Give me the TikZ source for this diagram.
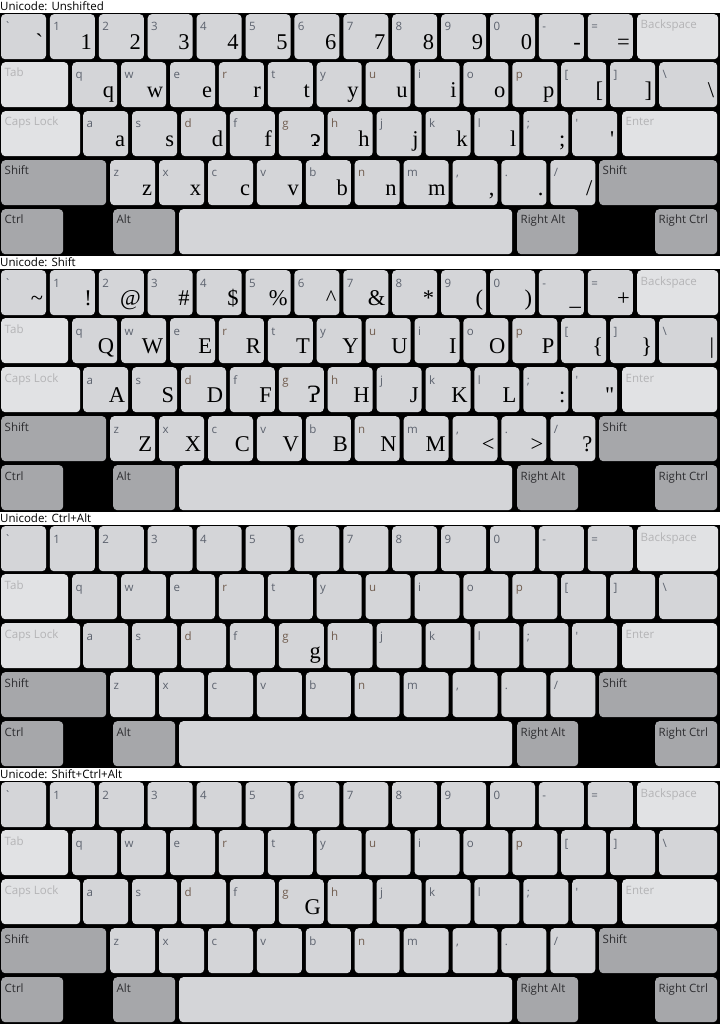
\documentclass[tikz,border=0pt]{standalone}
\usepackage{fontspec}
\newfontfamily\lblfont{Open Sans}
\newfontfamily\bigfont{Liberation Serif}
\newfontfamily\gsfont{DejaVu Serif}
\newcommand\uc[1]{\char"#1\relax}
\definecolor{keyfill}{RGB}{212,213,216}
\definecolor{litefill}{RGB}{225,226,228}
\definecolor{modfill}{RGB}{166,167,170}
\definecolor{lblgray}{RGB}{92,98,110}
\definecolor{lblbrown}{RGB}{112,92,78}
\definecolor{lblfaint}{RGB}{180,180,182}
\definecolor{lbldark}{RGB}{45,45,48}
\newcommand\br[1]{\textcolor{lblbrown}{#1}}
% small labels
\newcommand\SmA[1]{\ifcase#1 \uc{60}\or 1\or 2\or 3\or 4\or 5\or 6\or 7\or 8\or 9\or 0\or -\or =\fi}
\newcommand\SmB[1]{\ifcase#1 q\or w\or e\or \br{r}\or t\or y\or \br{u}\or i\or o\or \br{p}\or [\or ]\or \textbackslash\fi}
\newcommand\SmC[1]{\ifcase#1 a\or s\or \br{d}\or f\or \br{g}\or \br{h}\or j\or k\or l\or ;\or \uc{27}\fi}
\newcommand\SmD[1]{\ifcase#1 z\or x\or c\or v\or b\or \br{n}\or m\or ,\or .\or /\fi}
% big labels (redefined per panel)
\newcommand\BgA[1]{}
\newcommand\BgB[1]{}
\newcommand\BgC[1]{}
\newcommand\BgD[1]{}
% a normal key
\newcommand\kk[7]{%
  \node[#5, minimum width=#4pt, minimum height=45pt] (#1) at (#2,#3) {};
  \node[smalllbl] (#1s) at ([xshift=3.5pt,yshift=-17pt]#1.north west) {#6};
  \node[biglbl] (#1b) at ([xshift=-3pt,yshift=-35.5pt]#1.north east) {#7};
}
% a special key
\newcommand\sk[7]{%
  \node[#5, minimum width=#4pt, minimum height=45pt] (#1) at (#2,#3) {};
  \node[speclbl, text=#7] (#1s) at ([xshift=3.5pt,yshift=-15pt]#1.north west) {#6};
}
\newcommand\kbpanel[3]{%
  \node[titlelbl] (t#2) at (0,#1+10.5) {#3};
  \fill[black] (0,#1+12.7) rectangle (720,#1+256);
  % row 1
  \foreach \i in {0,...,12}{\kk{k#2a\i}{0.8+48.9*\i}{#1+14}{45}{keybox}{\SmA{\i}}{\BgA{\i}}}
  \sk{k#2bs}{637}{#1+14}{81}{litekey}{Backspace}{lblfaint}
  % row 2
  \sk{k#2tab}{1}{#1+62}{67}{litekey}{Tab}{lblfaint}
  \foreach \i in {0,...,11}{\kk{k#2b\i}{72+48.9*\i}{#1+62}{45}{keybox}{\SmB{\i}}{\BgB{\i}}}
  \kk{k#2b12}{659}{#1+62}{58}{keybox}{\SmB{12}}{\BgB{12}}
  % row 3
  \sk{k#2caps}{1}{#1+111}{79}{litekey}{Caps Lock}{lblfaint}
  \foreach \i in {0,...,10}{\kk{k#2c\i}{83+48.9*\i}{#1+111}{45}{keybox}{\SmC{\i}}{\BgC{\i}}}
  \sk{k#2ent}{622}{#1+111}{95}{litekey}{Enter}{lblfaint}
  % row 4
  \sk{k#2lsh}{1}{#1+160}{105}{modkey}{Shift}{lbldark}
  \foreach \i in {0,...,9}{\kk{k#2d\i}{110+48.9*\i}{#1+160}{45}{keybox}{\SmD{\i}}{\BgD{\i}}}
  \sk{k#2rsh}{599}{#1+160}{118}{modkey}{Shift}{lbldark}
  % row 5
  \sk{k#2lct}{1}{#1+209}{62}{modkey}{Ctrl}{lbldark}
  \sk{k#2lal}{113}{#1+209}{62}{modkey}{Alt}{lbldark}
  \node[keybox, minimum width=333pt, minimum height=45pt] (k#2sp) at (179,#1+209) {};
  \sk{k#2ral}{517}{#1+209}{61}{modkey}{Right Alt}{lbldark}
  \sk{k#2rct}{655}{#1+209}{62}{modkey}{Right Ctrl}{lbldark}
}
\begin{document}
\begin{tikzpicture}[x=1pt,y=-1pt,
  keybox/.style={fill=keyfill, draw=none, rounded corners=4pt, inner sep=0pt, anchor=north west},
  litekey/.style={keybox, fill=litefill},
  modkey/.style={keybox, fill=modfill},
  smalllbl/.style={font=\lblfont\fontsize{11.5}{12}\selectfont, text=lblgray, inner sep=0pt, anchor=base west},
  speclbl/.style={font=\lblfont\fontsize{11.5}{12}\selectfont, inner sep=0pt, anchor=base west},
  biglbl/.style={font=\bigfont\fontsize{22.5}{24}\selectfont, text=black, inner sep=0pt, anchor=base east},
  titlelbl/.style={font=\lblfont\fontsize{11.5}{12}\selectfont, text=black, inner sep=0pt, anchor=base west}]
\fill[white] (0,0) rectangle (720,1024);
\useasboundingbox (0,0) rectangle (720,1024);
% Panel 1: Unshifted
\renewcommand\BgA[1]{\ifcase#1 \uc{60}\or 1\or 2\or 3\or 4\or 5\or 6\or 7\or 8\or 9\or 0\or -\or =\fi}
\renewcommand\BgB[1]{\ifcase#1 q\or w\or e\or r\or t\or y\or u\or i\or o\or p\or [\or ]\or \textbackslash\fi}
\renewcommand\BgC[1]{\ifcase#1 a\or s\or d\or f\or {\gsfont\uc{242}}\or h\or j\or k\or l\or ;\or \uc{27}\fi}
\renewcommand\BgD[1]{\ifcase#1 z\or x\or c\or v\or b\or n\or m\or ,\or .\or /\fi}
\kbpanel{0}{1}{Unicode: Unshifted}
% Panel 2: Shift
\renewcommand\BgA[1]{\ifcase#1 \uc{7E}\or !\or @\or \#\or \$\or \%\or \uc{5E}\or \&\or *\or (\or )\or \_\or +\fi}
\renewcommand\BgB[1]{\ifcase#1 Q\or W\or E\or R\or T\or Y\or U\or I\or O\or P\or \{\or \}\or |\fi}
\renewcommand\BgC[1]{\ifcase#1 A\or S\or D\or F\or {\gsfont\uc{241}}\or H\or J\or K\or L\or :\or \uc{22}\fi}
\renewcommand\BgD[1]{\ifcase#1 Z\or X\or C\or V\or B\or N\or M\or <\or >\or ?\fi}
\kbpanel{256}{2}{Unicode: Shift}
% Panel 3: Ctrl+Alt
\renewcommand\BgA[1]{}
\renewcommand\BgB[1]{}
\renewcommand\BgC[1]{\ifcase#1 \or \or \or \or g\fi}
\renewcommand\BgD[1]{}
\kbpanel{512}{3}{Unicode: Ctrl+Alt}
% Panel 4: Shift+Ctrl+Alt
\renewcommand\BgC[1]{\ifcase#1 \or \or \or \or G\fi}
\kbpanel{768}{4}{Unicode: Shift+Ctrl+Alt}
\end{tikzpicture}
\end{document}
